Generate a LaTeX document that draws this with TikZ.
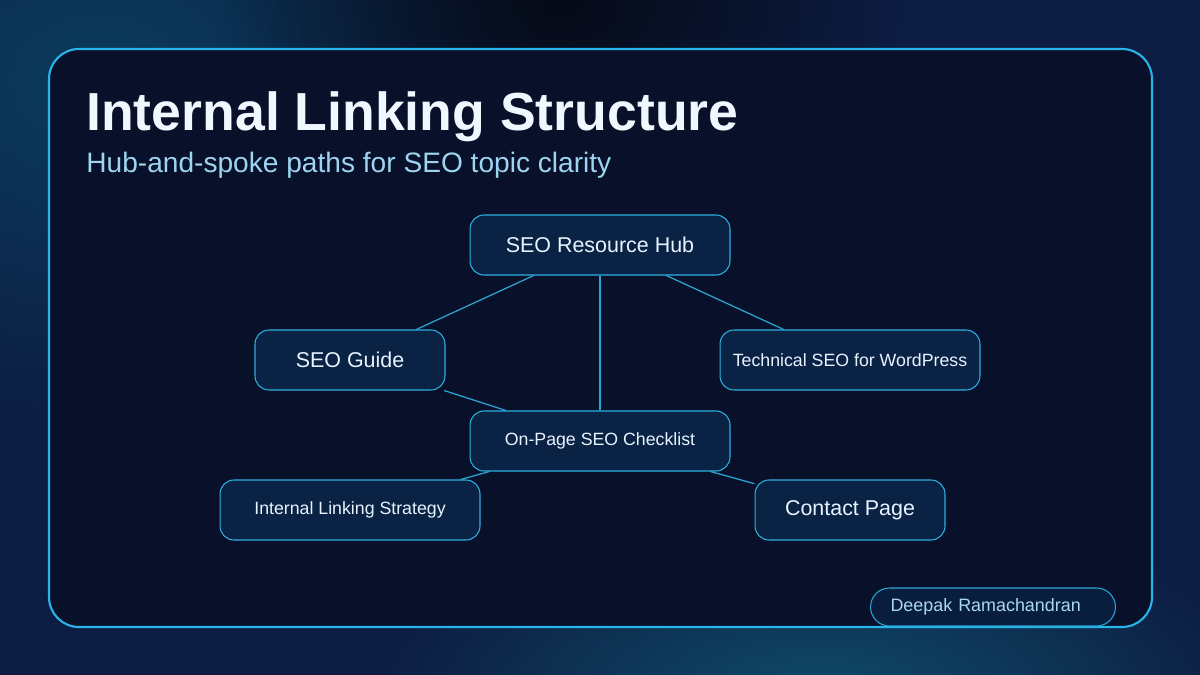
\documentclass[tikz,border=0pt]{standalone}
\usepackage{fontspec}
\setmainfont{Liberation Sans}
\usepackage{xcolor}
\usetikzlibrary{positioning, fadings}

\definecolor{bgnavy}{HTML}{0D1C42}
\definecolor{glowblue}{HTML}{0B3C5C}
\definecolor{darkband}{HTML}{050A16}
\definecolor{tealglow}{HTML}{0F4D68}
\definecolor{panelfill}{HTML}{081129}
\definecolor{panelline}{HTML}{27B4EA}
\definecolor{nodefill}{HTML}{0A2244}
\definecolor{nodeline}{HTML}{2DB0E2}
\definecolor{linkline}{HTML}{2AA6D6}
\definecolor{titlecol}{HTML}{F0F7FF}
\definecolor{subcol}{HTML}{9DD4F0}
\definecolor{nodetext}{HTML}{E8F3FF}
\definecolor{badgetext}{HTML}{A8D8F2}

\tikzfading[name=glow, inner color=transparent!0, outer color=transparent!100]

\begin{document}
\begin{tikzpicture}[x=0.02cm, y=-0.02cm,
    page/.style={draw=nodeline, line width=0.6pt, fill=nodefill, rounded corners=0.28cm, minimum height=1.2cm, text=nodetext, inner sep=2pt},
    big/.style={font=\fontsize{12.2}{14}\selectfont},
    small/.style={font=\fontsize{10.1}{12}\selectfont},
    link/.style={draw=linkline, line width=0.7pt}]
    \useasboundingbox (0,0) rectangle (1200,675);
    % background and panel
    \begin{scope}
        \clip (0,0) rectangle (1200,675);
        \fill[bgnavy] (0,0) rectangle (1200,675);
        \fill[glowblue, path fading=glow] (100,80) ellipse (480 and 360);
        \fill[darkband, path fading=glow] (560,0) ellipse (340 and 250);
        \fill[tealglow, path fading=glow] (820,700) ellipse (460 and 200);
    \end{scope}
    \draw[panelline, line width=1.2pt, fill=panelfill, rounded corners=0.6cm] (49,49) rectangle (1152,627);

    \node[anchor=base west, inner sep=0pt, text=titlecol, font=\fontsize{30.5}{34}\selectfont\bfseries] (title) at (86,131) {Internal Linking Structure};
    \node[anchor=base west, inner sep=0pt, text=subcol, font=\fontsize{16}{19}\selectfont] (subtitle) at (86,173) {Hub-and-spoke paths for SEO topic clarity};

    \node[page, big, minimum width=5.2cm] (hub) at (600,245) {SEO Resource Hub};
    \node[page, small, minimum width=5.2cm] (onpage) [below=2.7cm of hub] {On-Page SEO Checklist};
    \node[page, big, minimum width=3.8cm] (guide) at (350,360) {SEO Guide};
    \node[page, small, minimum width=5.2cm] (tech) at (850,360) {Technical SEO for WordPress};
    \node[page, small, minimum width=5.2cm] (strategy) at (350,510) {Internal Linking Strategy};
    \node[page, big, minimum width=3.8cm] (contact) at (850,510) {Contact Page};

    \path[link] (hub) edge (guide)
          (hub) edge (onpage)
          (hub) edge (tech)
          (guide) edge (onpage)
          (onpage) edge (strategy)
          (onpage) edge (contact);

    \node[draw=linkline, line width=0.6pt, fill=nodefill!70!panelfill, rounded corners=0.38cm, minimum height=0.76cm, text width=4.1cm, align=left, inner xsep=0.4cm, inner ysep=0pt, text=badgetext, font=\fontsize{10.2}{12}\selectfont] (badge) at (993,607) {Deepak Ramachandran};
\end{tikzpicture}
\end{document}
